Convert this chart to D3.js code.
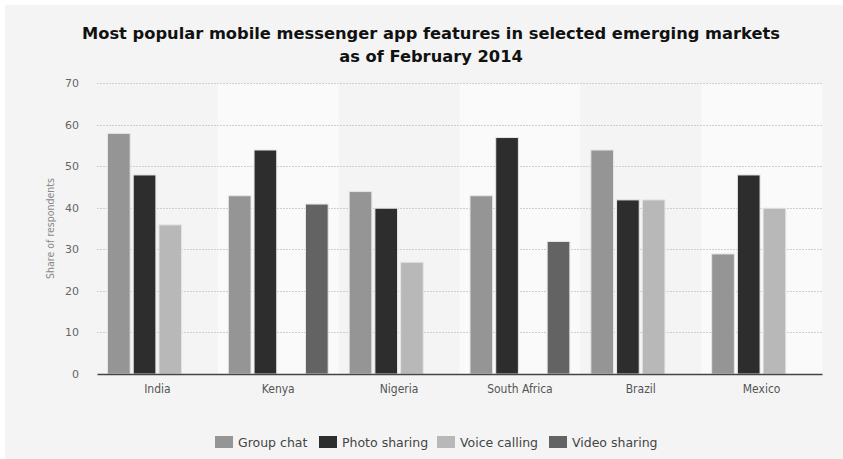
<!DOCTYPE html>
<html>
<head>
<meta charset="utf-8">
<script src="https://cdn.jsdelivr.net/npm/d3@7"></script>
<style>
  html, body { margin: 0; padding: 0; background: #ffffff; }
  svg { display: block; }
</style>
</head>
<body>
<svg id="chart" width="843" height="459"></svg>
<script>
// Data: share of respondents (%) using each messenger feature
const countries = ["India", "Kenya", "Nigeria", "South Africa", "Brazil", "Mexico"];
const seriesNames = ["Group chat", "Photo sharing", "Voice calling", "Video sharing"];
const groupChat    = [58, 43, 44, 43, 54, 29];
const photoSharing = [48, 54, 40, 57, 42, 48];
const voiceCalling = [36, null, 27, null, 42, 40];
const videoSharing = [null, 41, null, 32, null, null];
const yTicks = [0, 10, 20, 30, 40, 50, 60, 70];
const seriesColors = ["#959595", "#2d2d2d", "#b8b8b8", "#636363"];

const seriesValues = [groupChat, photoSharing, voiceCalling, videoSharing];

const svg = d3.select("#chart");
const W = 843, H = 459;
const margin = { left: 97, right: 21, top: 83, bottom: 85 };

// Panel background
svg.append("rect").attr("x", 5).attr("y", 5).attr("width", W - 5).attr("height", H - 5)
  .attr("fill", "#f4f4f4");

const x = d3.scaleBand().domain(countries).range([margin.left, W - margin.right]);
const x1 = d3.scaleBand().domain(seriesNames).range([10, x.bandwidth() - 10]).paddingInner(0.08);
const y = d3.scaleLinear().domain([0, 70]).range([H - margin.bottom, margin.top]);

// Alternating category bands
svg.append("g").selectAll("rect").data(countries.filter((d, i) => i % 2 === 1)).join("rect")
  .attr("x", d => x(d)).attr("y", y(70)).attr("width", x.bandwidth()).attr("height", y(0) - y(70))
  .attr("fill", "#fafafa");

// Gridlines
svg.append("g").selectAll("line").data(yTicks.filter(t => t > 0)).join("line")
  .attr("x1", margin.left).attr("x2", W - margin.right)
  .attr("y1", d => Math.round(y(d)) + 0.5).attr("y2", d => Math.round(y(d)) + 0.5)
  .attr("stroke", "#cfcfcf").attr("stroke-width", 1).attr("stroke-dasharray", "2,1");

// Y axis labels
const yAxis = d3.axisLeft(y).tickValues(yTicks).tickSize(0).tickPadding(0);
const yg = svg.append("g").attr("transform", `translate(${margin.left - 18},0)`).call(yAxis);
yg.select(".domain").remove();
yg.selectAll("text").attr("fill", "#666").attr("font-size", "11px")
  .attr("font-family", "DejaVu Sans, sans-serif");

// Y axis title
svg.append("text")
  .attr("transform", `translate(54,${(y(0) + y(70)) / 2}) rotate(-90)`)
  .attr("text-anchor", "middle").attr("font-size", "10.5px").attr("fill", "#888")
  .attr("font-family", "DejaVu Sans Condensed, DejaVu Sans, sans-serif")
  .text("Share of respondents");

// Bars
const groups = svg.append("g").selectAll("g").data(countries).join("g")
  .attr("transform", d => `translate(${x(d)},0)`);
groups.selectAll("rect")
  .data((c, ci) => seriesNames.map((s, si) => ({ s, si, v: seriesValues[si][ci] })).filter(d => d.v != null))
  .join("rect")
  .attr("x", d => x1(d.s) + 0.5)
  .attr("y", d => y(d.v) + 0.5)
  .attr("width", x1.bandwidth() - 1)
  .attr("height", d => y(0) - y(d.v) - 0.5)
  .attr("fill", d => seriesColors[d.si])
  .attr("stroke", "#e6e6e6").attr("stroke-width", 1);

// Baseline and x labels
const xAxis = d3.axisBottom(x).tickSize(0).tickPadding(10);
const xg = svg.append("g").attr("transform", `translate(0,${y(0)})`).call(xAxis);
xg.select(".domain").attr("stroke", "#444").attr("stroke-width", 1.5);
xg.selectAll("text").attr("fill", "#555").attr("font-size", "12px")
  .attr("font-family", "DejaVu Sans Condensed, DejaVu Sans, sans-serif");

// Title
const title = svg.append("text").attr("text-anchor", "middle")
  .attr("font-family", "DejaVu Sans, sans-serif").attr("font-weight", "bold")
  .attr("font-size", "16.3px").attr("fill", "#111");
title.append("tspan").attr("x", 431).attr("y", 39).text("Most popular mobile messenger app features in selected emerging markets");
title.append("tspan").attr("x", 431).attr("y", 62).text("as of February 2014");

// Legend
const legendX = [215, 319, 437, 549];
const lg = svg.append("g").selectAll("g").data(seriesNames).join("g")
  .attr("transform", (d, i) => `translate(${legendX[i]},436)`);
lg.append("rect").attr("width", 18).attr("height", 12).attr("fill", (d, i) => seriesColors[i]);
lg.append("text").attr("x", 23).attr("y", 10.5).attr("font-size", "12.5px").attr("fill", "#444")
  .attr("font-family", "DejaVu Sans, sans-serif").text(d => d);
</script>
</body>
</html>
